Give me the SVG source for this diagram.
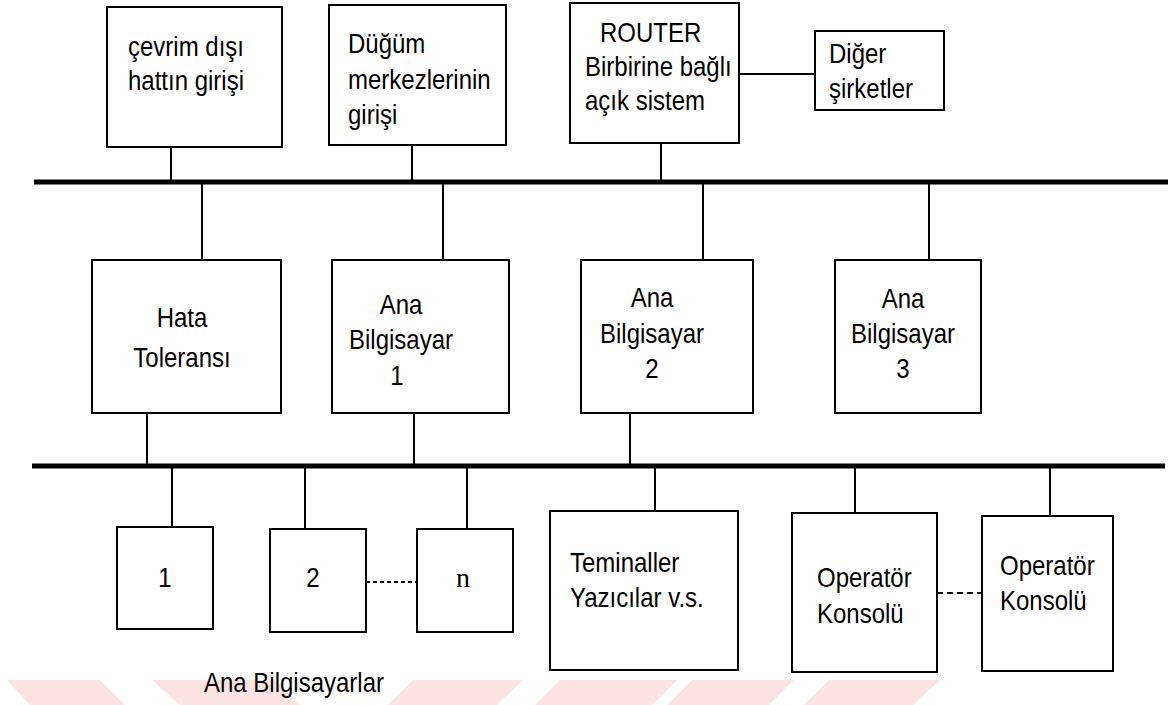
<svg xmlns="http://www.w3.org/2000/svg" width="1171" height="705" viewBox="0 0 1171 705">
<style>
.box{fill:#fff;stroke:#000;stroke-width:2}
.bus{stroke:#000;stroke-width:5;fill:none}
.ln{stroke:#000;stroke-width:2;fill:none}
.dot{stroke:#000;stroke-width:2;fill:none;stroke-dasharray:4,3}
.dash{stroke:#000;stroke-width:2;fill:none;stroke-dasharray:6,4}
text{font-family:"Liberation Sans",Arial,sans-serif;font-size:24px;fill:#000}
.c{text-anchor:middle}
.serif{font-family:"Liberation Serif","Times New Roman",serif;font-size:28px}
.wm{fill:#fce3e3}
</style>
<rect width="1171" height="705" fill="#fff"/>
<g id="watermark">
<polygon class="wm" points="7,680 100,680 125,705 30,705"/>
<polygon class="wm" points="152,680 275,680 300,705 180,705"/>
<polygon class="wm" points="413,680 523,680 497,705 388,705"/>
<polygon class="wm" points="560,680 677,680 652,705 535,705"/>
<polygon class="wm" points="692,680 794,680 769,705 667,705"/>
<polygon class="wm" points="829,680 940,680 913,705 804,705"/>
</g>
<g id="connectors">
<line class="bus" x1="34" y1="182" x2="1168" y2="182"/>
<line class="bus" x1="32" y1="466" x2="1165" y2="466"/>
<line class="ln" x1="171" y1="147" x2="171" y2="182"/>
<line class="ln" x1="412" y1="145" x2="412" y2="182"/>
<line class="ln" x1="661" y1="143" x2="661" y2="182"/>
<line class="ln" x1="739" y1="74" x2="815" y2="74"/>
<line class="ln" x1="202" y1="182" x2="202" y2="260"/>
<line class="ln" x1="443" y1="182" x2="443" y2="260"/>
<line class="ln" x1="703" y1="182" x2="703" y2="260"/>
<line class="ln" x1="929" y1="182" x2="929" y2="260"/>
<line class="ln" x1="147" y1="413" x2="147" y2="466"/>
<line class="ln" x1="414" y1="413" x2="414" y2="466"/>
<line class="ln" x1="630" y1="413" x2="630" y2="466"/>
<line class="ln" x1="172" y1="466" x2="172" y2="527"/>
<line class="ln" x1="305" y1="466" x2="305" y2="529"/>
<line class="ln" x1="467" y1="466" x2="467" y2="529"/>
<line class="ln" x1="655" y1="466" x2="655" y2="511"/>
<line class="ln" x1="855" y1="466" x2="855" y2="513"/>
<line class="ln" x1="1050" y1="466" x2="1050" y2="516"/>
<line class="dot" x1="366" y1="582" x2="417" y2="582"/>
<line class="dash" x1="937" y1="593" x2="982" y2="593"/>
</g>
<g id="n-cevrim">
<rect class="box" x="107" y="7" width="175" height="140"/>
<text x="128" y="56" transform="matrix(1 0 0 1.12 0 -6.72)">çevrim dışı</text>
<text x="128" y="90" transform="matrix(1 0 0 1.12 0 -10.8)">hattın girişi</text>
</g>
<g id="n-dugum">
<rect class="box" x="329" y="5" width="177" height="140"/>
<text x="348" y="53" transform="matrix(1 0 0 1.12 0 -6.36)">Düğüm</text>
<text x="348" y="89" transform="matrix(1 0 0 1.12 0 -10.68)">merkezlerinin</text>
<text x="348" y="124" transform="matrix(1 0 0 1.12 0 -14.88)">girişi</text>
</g>
<g id="n-router">
<rect class="box" x="570" y="3" width="169" height="140"/>
<text x="600" y="42" transform="matrix(1 0 0 1.12 0 -5.04)">ROUTER</text>
<text x="585" y="76" transform="matrix(1 0 0 1.12 0 -9.12)">Birbirine bağlı</text>
<text x="585" y="110" transform="matrix(1 0 0 1.12 0 -13.2)">açık sistem</text>
</g>
<g id="n-diger">
<rect class="box" x="815" y="31" width="129" height="79"/>
<text x="829" y="63" transform="matrix(1 0 0 1.12 0 -7.56)">Diğer</text>
<text x="829" y="98" transform="matrix(1 0 0 1.12 0 -11.76)">şirketler</text>
</g>
<g id="n-hata">
<rect class="box" x="92" y="260" width="189" height="153"/>
<text class="c" x="182" y="327" transform="matrix(1 0 0 1.12 0 -39.24)">Hata</text>
<text class="c" x="182" y="367" transform="matrix(1 0 0 1.12 0 -44.04)">Toleransı</text>
</g>
<g id="n-ab1">
<rect class="box" x="332" y="260" width="177" height="153"/>
<text class="c" x="401" y="314" transform="matrix(1 0 0 1.12 0 -37.68)">Ana</text>
<text class="c" x="401" y="349" transform="matrix(1 0 0 1.12 0 -41.88)">Bilgisayar</text>
<text class="c" x="397" y="385" transform="matrix(1 0 0 1.12 0 -46.2)">1</text>
</g>
<g id="n-ab2">
<rect class="box" x="581" y="260" width="172" height="153"/>
<text class="c" x="652" y="307" transform="matrix(1 0 0 1.12 0 -36.84)">Ana</text>
<text class="c" x="652" y="343" transform="matrix(1 0 0 1.12 0 -41.16)">Bilgisayar</text>
<text class="c" x="652" y="378" transform="matrix(1 0 0 1.12 0 -45.36)">2</text>
</g>
<g id="n-ab3">
<rect class="box" x="835" y="260" width="146" height="153"/>
<text class="c" x="903" y="308" transform="matrix(1 0 0 1.12 0 -36.96)">Ana</text>
<text class="c" x="903" y="343" transform="matrix(1 0 0 1.12 0 -41.16)">Bilgisayar</text>
<text class="c" x="903" y="378" transform="matrix(1 0 0 1.12 0 -45.36)">3</text>
</g>
<g id="n-1">
<rect class="box" x="117" y="527" width="96" height="102"/>
<text class="c" x="165" y="587" transform="matrix(1 0 0 1.12 0 -70.44)">1</text>
</g>
<g id="n-2">
<rect class="box" x="270" y="529" width="96" height="103"/>
<text class="c" x="313" y="587" transform="matrix(1 0 0 1.12 0 -70.44)">2</text>
</g>
<g id="n-n">
<rect class="box" x="417" y="529" width="96" height="103"/>
<text class="c serif" x="463" y="587">n</text>
</g>
<g id="n-terminal">
<rect class="box" x="550" y="511" width="188" height="159"/>
<text x="570" y="572" transform="matrix(1 0 0 1.12 0 -68.64)">Teminaller</text>
<text x="570" y="607" transform="matrix(1 0 0 1.12 0 -72.84)">Yazıcılar v.s.</text>
</g>
<g id="n-op1">
<rect class="box" x="792" y="513" width="145" height="159"/>
<text x="817" y="587" transform="matrix(1 0 0 1.12 0 -70.44)">Operatör</text>
<text x="817" y="623" transform="matrix(1 0 0 1.12 0 -74.76)">Konsolü</text>
</g>
<g id="n-op2">
<rect class="box" x="982" y="516" width="131" height="155"/>
<text x="1000" y="575" transform="matrix(1 0 0 1.12 0 -69)">Operatör</text>
<text x="1000" y="610" transform="matrix(1 0 0 1.12 0 -73.2)">Konsolü</text>
</g>
<g id="label">
<text x="204" y="692" transform="matrix(1 0 0 1.12 0 -83.04)">Ana Bilgisayarlar</text>
</g>
</svg>
